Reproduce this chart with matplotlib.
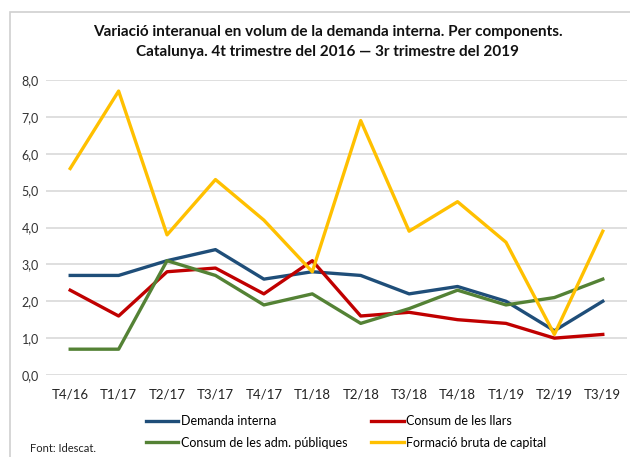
import matplotlib
matplotlib.use("Agg")
import matplotlib.pyplot as plt
from matplotlib.patches import Rectangle

plt.rcParams['font.family'] = ['Lato', 'DejaVu Sans']

categories = ["T4/16", "T1/17", "T2/17", "T3/17", "T4/17", "T1/18",
              "T2/18", "T3/18", "T4/18", "T1/19", "T2/19", "T3/19"]
demanda_interna = [2.7, 2.7, 3.1, 3.4, 2.6, 2.8, 2.7, 2.2, 2.4, 2.0, 1.2, 2.0]
consum_llars = [2.3, 1.6, 2.8, 2.9, 2.2, 3.1, 1.6, 1.7, 1.5, 1.4, 1.0, 1.1]
consum_adm = [0.7, 0.7, 3.1, 2.7, 1.9, 2.2, 1.4, 1.8, 2.3, 1.9, 2.1, 2.6]
formacio_capital = [5.6, 7.7, 3.8, 5.3, 4.2, 2.8, 6.9, 3.9, 4.7, 3.6, 1.1, 3.9]
y_ticks = [0, 1, 2, 3, 4, 5, 6, 7, 8]

W, H = 630, 457
fig = plt.figure(figsize=(W / 100, H / 100), dpi=100)
fig.patches.append(Rectangle((10 / W, -0.1), 1.2, 1 - 12 / H + 0.1, transform=fig.transFigure,
                             fill=False, edgecolor='#D0D0D0', linewidth=1.2))

ax = fig.add_axes([46 / W, 1 - 375 / H, (627 - 46) / W, (375 - 80) / H])
x = list(range(len(categories)))
lw = 2.4
ax.plot(x, demanda_interna, color='#1F4E79', lw=lw, label='Demanda interna', zorder=3)
ax.plot(x, consum_llars, color='#C00000', lw=lw, label='Consum de les llars', zorder=3)
ax.plot(x, consum_adm, color='#548235', lw=lw, label='Consum de les adm. públiques', zorder=3)
ax.plot(x, formacio_capital, color='#FFC000', lw=lw, label='Formació bruta de capital', zorder=3)

ax.set_xlim(-0.5, len(categories) - 0.5)
ax.set_ylim(0, 8)
ax.set_yticks(y_ticks)
ax.set_yticklabels([f"{v:.1f}".replace('.', ',') for v in y_ticks], fontsize=9, color='#333333')
ax.set_xticks(x)
ax.set_xticklabels(categories, fontsize=9.5, color='#222222')
ax.tick_params(axis='both', length=0)
ax.tick_params(axis='x', pad=10)
ax.tick_params(axis='y', pad=5)
ax.yaxis.grid(True, color='#D9D9D9', lw=1.2)
ax.set_axisbelow(True)
for s in ax.spines.values():
    s.set_visible(False)

fig.text(0.52, 1 - 32 / H, "Variació interanual en volum de la demanda interna. Per components.",
         ha='center', va='center', fontsize=11, fontweight='bold', color='#111111')
fig.text(0.52, 1 - 52 / H, "Catalunya. 4t trimestre del 2016 — 3r trimestre del 2019",
         ha='center', va='center', fontsize=11, fontweight='bold', color='#111111')

handles, labels = ax.get_legend_handles_labels()
order = [0, 2, 1, 3]
leg = fig.legend([handles[i] for i in order], [labels[i] for i in order], ncol=2,
                 loc='center', bbox_to_anchor=(346 / W, 1 - 432 / H), frameon=False,
                 fontsize=9, handlelength=2.6, handletextpad=0.2, columnspacing=1.9,
                 labelspacing=0.75)

fig.text(30 / W, 1 - 449 / H, "Font: Idescat.", ha='left', va='center', fontsize=8, color='#222222')

fig.savefig("out.png", dpi=100)
